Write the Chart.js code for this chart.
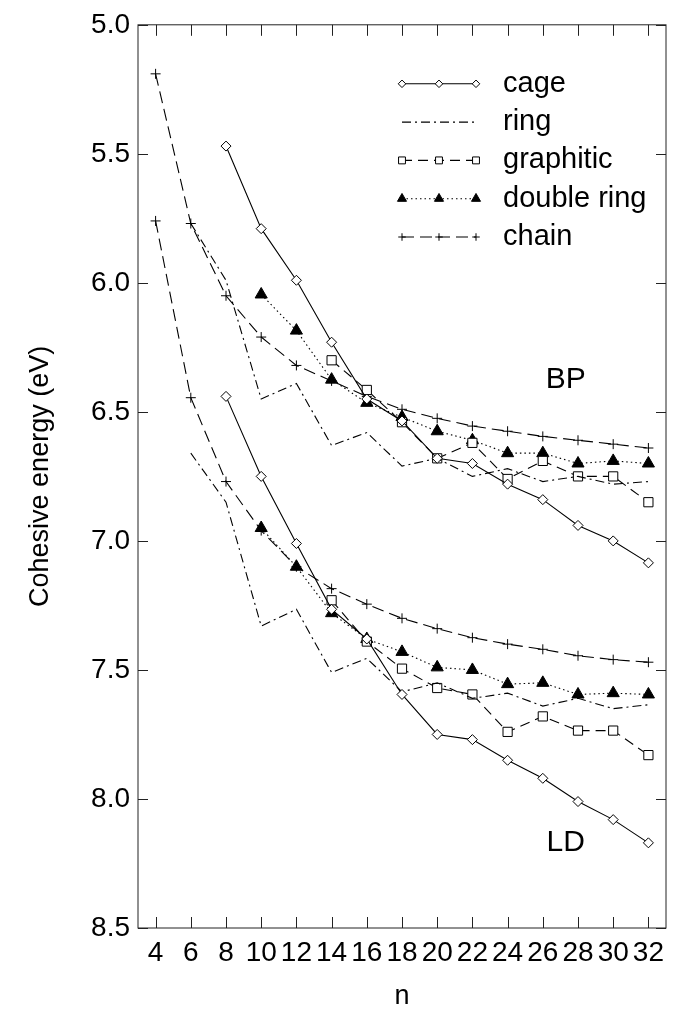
<!DOCTYPE html>
<html>
<head>
<meta charset="utf-8">
<script src="https://cdn.jsdelivr.net/npm/chart.js@4.4.0/dist/chart.umd.min.js"></script>
<style>
  html, body { margin: 0; padding: 0; background: #fff; }
</style>
</head>
<body>
<canvas id="cohesiveChart" width="674" height="1014"></canvas>
<script>
// cluster size n (x ticks)
const nTicks = [4, 6, 8, 10, 12, 14, 16, 18, 20, 22, 24, 26, 28, 30, 32];

// cohesive energies (eV), BP = upper set, LD = lower set
const cageN = [8, 10, 12, 14, 16, 18, 20, 22, 24, 26, 28, 30, 32];
const cageBP = [5.47, 5.79, 5.99, 6.23, 6.45, 6.535, 6.68, 6.70, 6.78, 6.84, 6.94, 7.00, 7.085];
const cageLD = [6.44, 6.75, 7.01, 7.265, 7.38, 7.595, 7.75, 7.77, 7.85, 7.92, 8.01, 8.08, 8.17];

const ringN = [6, 8, 10, 12, 14, 16, 18, 20, 22, 24, 26, 28, 30, 32];
const ringBP = [5.77, 5.99, 6.45, 6.39, 6.63, 6.58, 6.71, 6.68, 6.75, 6.72, 6.77, 6.75, 6.78, 6.77];
const ringLD = [6.66, 6.85, 7.33, 7.265, 7.51, 7.455, 7.585, 7.55, 7.61, 7.59, 7.64, 7.61, 7.65, 7.635];

const graphN = [14, 16, 18, 20, 22, 24, 26, 28, 30, 32];
const graphBP = [6.30, 6.415, 6.54, 6.68, 6.62, 6.76, 6.69, 6.75, 6.75, 6.85];
const graphLD = [7.23, 7.39, 7.495, 7.57, 7.595, 7.74, 7.68, 7.735, 7.735, 7.83];

const dringN = [10, 12, 14, 16, 18, 20, 22, 24, 26, 28, 30, 32];
const dringBP = [6.045, 6.185, 6.375, 6.465, 6.52, 6.575, 6.61, 6.66, 6.66, 6.70, 6.69, 6.70];
const dringLD = [6.95, 7.10, 7.28, 7.38, 7.43, 7.49, 7.50, 7.555, 7.55, 7.595, 7.59, 7.595];

const chainN = [4, 6, 8, 10, 12, 14, 16, 18, 20, 22, 24, 26, 28, 30, 32];
const chainBP = [5.19, 5.77, 6.05, 6.21, 6.32, 6.38, 6.44, 6.49, 6.525, 6.555, 6.575, 6.595, 6.61, 6.625, 6.64];
const chainLD = [5.76, 6.445, 6.77, 6.96, 7.10, 7.185, 7.245, 7.30, 7.34, 7.375, 7.40, 7.42, 7.445, 7.46, 7.47];

const groupLabels = [{ text: 'BP', n: 27.3, e: 6.375 }, { text: 'LD', n: 27.3, e: 8.17 }];

const FONT = "'Liberation Sans', Arial, sans-serif";

const styles = {
  cage: { label: 'cage', pointStyle: 'rectRot', pointRadius: 5, pointBackgroundColor: '#fff', borderDash: [] },
  ring: { label: 'ring', pointStyle: 'circle', pointRadius: 0, pointBackgroundColor: '#000', borderDash: [9, 4, 2, 4] },
  graphitic: { label: 'graphitic', pointStyle: 'rect', pointRadius: 6.5, pointBackgroundColor: '#fff', borderDash: [10, 6] },
  dring: { label: 'double ring', pointStyle: 'triangle', pointRadius: 7, pointBackgroundColor: '#000', borderDash: [1.5, 3] },
  chain: { label: 'chain', pointStyle: 'cross', pointRadius: 5, pointBackgroundColor: '#000', borderDash: [12, 6] }
};

function makeSet(style, ns, vals) {
  return {
    label: style.label,
    data: ns.map((n, i) => ({ x: n, y: vals[i] })),
    borderColor: '#000',
    borderWidth: 1.1,
    borderDash: style.borderDash,
    pointStyle: style.pointStyle,
    pointRadius: style.pointRadius,
    pointHoverRadius: style.pointRadius,
    pointBackgroundColor: style.pointBackgroundColor,
    pointBorderColor: '#000',
    pointBorderWidth: 1,
    fill: false,
    tension: 0
  };
}

const datasets = [
  makeSet(styles.cage, cageN, cageBP),
  makeSet(styles.ring, ringN, ringBP),
  makeSet(styles.graphitic, graphN, graphBP),
  makeSet(styles.dring, dringN, dringBP),
  makeSet(styles.chain, chainN, chainBP),
  makeSet(styles.cage, cageN, cageLD),
  makeSet(styles.ring, ringN, ringLD),
  makeSet(styles.graphitic, graphN, graphLD),
  makeSet(styles.dring, dringN, dringLD),
  makeSet(styles.chain, chainN, chainLD)
];

// frame with inward ticks, legend and BP/LD labels
const framePlugin = {
  id: 'frame',
  afterDatasetsDraw(chart) {
    const { ctx, chartArea: a, scales: { x, y } } = chart;
    ctx.save();
    ctx.strokeStyle = '#222';
    ctx.lineWidth = 1;
    ctx.setLineDash([]);
    ctx.strokeRect(a.left, a.top, a.right - a.left, a.bottom - a.top);
    ctx.beginPath();
    x.ticks.forEach(t => {
      const px = Math.round(x.getPixelForValue(t.value)) + 0.5;
      ctx.moveTo(px, a.bottom); ctx.lineTo(px, a.bottom - 11);
      ctx.moveTo(px, a.top); ctx.lineTo(px, a.top + 11);
    });
    y.ticks.forEach(t => {
      const py = Math.round(y.getPixelForValue(t.value)) + 0.5;
      ctx.moveTo(a.left, py); ctx.lineTo(a.left + 10, py);
      ctx.moveTo(a.right, py); ctx.lineTo(a.right - 10, py);
    });
    ctx.stroke();

    // legend
    const keys = ['cage', 'ring', 'graphitic', 'dring', 'chain'];
    const x0 = a.left + 264, x1 = a.left + 338, tx = a.left + 365;
    ctx.font = '29px ' + FONT;
    ctx.textBaseline = 'middle';
    keys.forEach((k, i) => {
      const s = styles[k];
      const ry = a.top + 59 + i * 38.3;
      ctx.strokeStyle = '#000';
      ctx.lineWidth = 1.1;
      ctx.setLineDash(s.borderDash);
      ctx.beginPath(); ctx.moveTo(x0, ry); ctx.lineTo(x1, ry); ctx.stroke();
      ctx.setLineDash([]);
      if (s.pointRadius > 0) {
        ctx.fillStyle = s.pointBackgroundColor;
        ctx.lineWidth = 1;
        [x0, (x0 + x1) / 2, x1].forEach(px => {
          Chart.helpers.drawPoint(ctx, { pointStyle: s.pointStyle, radius: s.pointRadius * 0.75, rotation: 0, borderWidth: 1 }, px, ry);
        });
      }
      ctx.fillStyle = '#000';
      ctx.fillText(s.label, tx, ry);
    });

    // group labels
    ctx.font = '30px ' + FONT;
    ctx.textAlign = 'center';
    groupLabels.forEach(g => {
      ctx.fillText(g.text, x.getPixelForValue(g.n), y.getPixelForValue(g.e));
    });
    ctx.restore();
  }
};

new Chart(document.getElementById('cohesiveChart'), {
  type: 'line',
  data: { datasets: datasets },
  options: {
    responsive: false,
    animation: false,
    layout: { padding: { top: 21, right: 3, left: 0, bottom: 0 } },
    plugins: {
      legend: { display: false },
      tooltip: { enabled: false }
    },
    scales: {
      x: {
        type: 'linear',
        min: 3,
        max: 33,
        afterBuildTicks(scale) { scale.ticks = nTicks.map(v => ({ value: v })); },
        afterFit(scale) { scale.height = 86; },
        grid: { display: false, drawTicks: false },
        border: { display: false },
        ticks: {
          autoSkip: false,
          maxRotation: 0,
          padding: 8,
          color: '#000',
          font: { family: FONT, size: 28 }
        },
        title: {
          display: true,
          text: 'n',
          color: '#000',
          padding: { top: 0, bottom: 1 },
          font: { family: FONT, size: 27 }
        }
      },
      y: {
        reverse: true,
        min: 5.0,
        max: 8.5,
        afterFit(scale) { scale.width = 138; },
        grid: { display: false, drawTicks: false },
        border: { display: false },
        ticks: {
          stepSize: 0.5,
          padding: 8,
          color: '#000',
          font: { family: FONT, size: 28 },
          callback: v => v.toFixed(1)
        },
        title: {
          display: true,
          text: 'Cohesive energy (eV)',
          color: '#000',
          padding: { top: 24, bottom: 0 },
          font: { family: FONT, size: 27 }
        }
      }
    }
  },
  plugins: [framePlugin]
});
</script>
</body>
</html>
